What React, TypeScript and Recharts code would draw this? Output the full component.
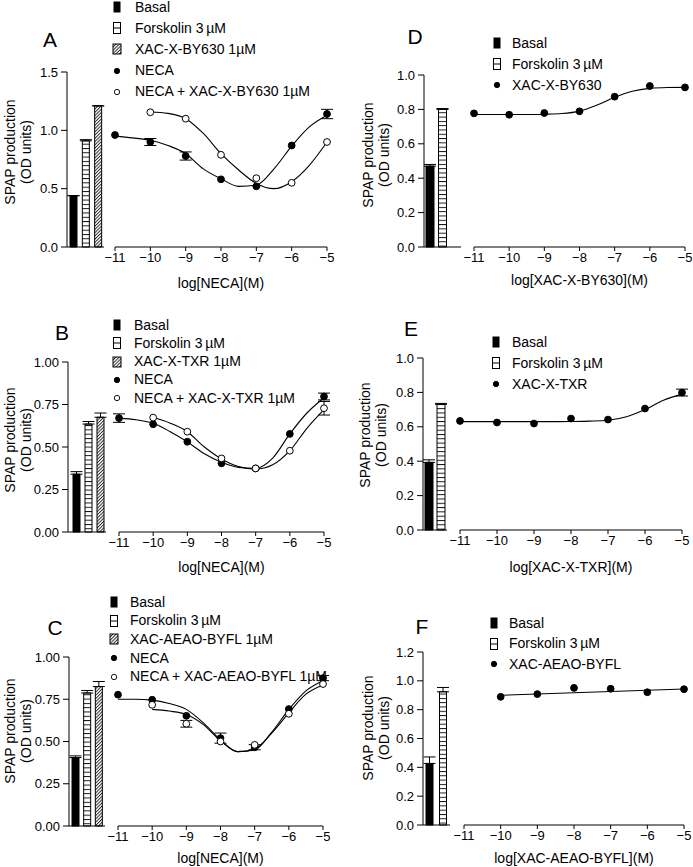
import { Bar, BarChart, Cell, ComposedChart, ErrorBar, Line, Scatter, XAxis, YAxis } from "recharts";

const FONT = "'Liberation Sans', Arial, Helvetica, sans-serif";

const doses = [-11, -10, -9, -8, -7, -6, -5];
const fitDoses = [-11, -10.5, -10, -9.5, -9, -8.5, -8, -7.5, -7, -6.5, -6, -5.5, -5];
const flatFitDoses = [-10, -5];
const xTicks = [-11, -10, -9, -8, -7, -6, -5];
const barNames = ["Basal", "Forskolin", "Antagonist"];

// panel A
const aBars = [0.44, 0.91, 1.21];
const aBarErr = [0, 0.01, 0];
const aNeca = [0.96, 0.9, 0.78, 0.58, 0.52, 0.87, 1.14];
const aNecaErr = [0, 0.03, 0.035, 0, 0, 0, 0.04];
const aNecaAnt = [null, 1.155, 1.1, 0.79, 0.59, 0.55, 0.9];
const aNecaFit = [0.95, 0.935, 0.915, 0.87, 0.8, 0.67, 0.585, 0.52, 0.53, 0.67, 0.865, 1.03, 1.13];
const aNecaAntFit = [null, null, 1.157, 1.145, 1.1, 0.973, 0.8, 0.66, 0.545, 0.5, 0.56, 0.7, 0.9];

// panel B
const bBars = [0.34, 0.635, 0.675];
const bBarErr = [0.015, 0.015, 0.025];
const bNeca = [0.67, 0.634, 0.531, 0.404, 0.374, 0.577, 0.797];
const bNecaErr = [0.025, 0, 0, 0, 0, 0, 0.02];
const bNecaAnt = [null, 0.673, 0.59, 0.433, 0.374, 0.478, 0.728];
const bNecaAntErr = [0, 0, 0, 0, 0, 0, 0.04];
const bNecaFit = [0.67, 0.66, 0.64, 0.59, 0.53, 0.46, 0.41, 0.38, 0.375, 0.435, 0.577, 0.7, 0.79];
const bNecaAntFit = [null, null, 0.673, 0.64, 0.59, 0.5, 0.43, 0.385, 0.37, 0.395, 0.478, 0.61, 0.72];

// panel C
const cBars = [0.405, 0.787, 0.825];
const cBarErr = [0.01, 0.015, 0.03];
const cNeca = [0.777, 0.747, 0.652, 0.52, 0.466, 0.692, 0.875];
const cNecaErr = [0, 0, 0, 0.03, 0.015, 0, 0.015];
const cNecaAnt = [null, 0.717, 0.605, 0.5, 0.48, 0.664, 0.84];
const cNecaAntErr = [0, 0, 0.02, 0, 0, 0, 0];
const cNecaFit = [0.75, 0.75, 0.745, 0.725, 0.69, 0.61, 0.51, 0.44, 0.45, 0.555, 0.69, 0.8, 0.86];
const cNecaAntFit = [null, null, 0.69, 0.68, 0.66, 0.6, 0.505, 0.44, 0.455, 0.55, 0.67, 0.78, 0.835];

// panel D
const dBars = [0.47, 0.8];
const dBarErr = [0.01, 0.005];
const dAnt = [0.777, 0.769, 0.779, 0.789, 0.874, 0.936, 0.928];
const dAntFit = [0.77, 0.77, 0.77, 0.77, 0.772, 0.776, 0.79, 0.825, 0.87, 0.905, 0.922, 0.927, 0.928];

// panel E
const eBars = [0.393, 0.731];
const eBarErr = [0.015, 0.005];
const eAnt = [0.634, 0.625, 0.619, 0.648, 0.642, 0.706, 0.799];
const eAntErr = [0, 0, 0, 0, 0, 0, 0.02];
const eAntFit = [0.63, 0.63, 0.63, 0.63, 0.63, 0.63, 0.631, 0.633, 0.638, 0.658, 0.7, 0.755, 0.79];

// panel F
const fBars = [0.427, 0.924];
const fBarErr = [0.045, 0.03];
const fAnt = [null, 0.889, 0.908, 0.951, 0.945, 0.921, 0.942];
const fAntFit = [0.9, 0.943];

const fmtMinus = (v: number) => String(v).replace("-", "\u2212");

function pts(xs: number[], ys: (number | null)[], errs?: number[]) {
  return xs
    .map((x, i) => ({ x, y: ys[i], err: errs ? errs[i] : 0 }))
    .filter((d) => d.y !== null);
}

function barRows(values: number[], errs: number[]) {
  return values.map((v, i) => ({ name: barNames[i], value: v, err: [0, errs[i]] }));
}

const fills = ["#000", "url(#stripes)", "url(#hatch)"];

function Icon({ kind }: { kind: string }) {
  if (kind === "basal")
    return (
      <svg width={12} height={14}>
        <rect x={2.5} y={1.5} width={7} height={11} fill="#000" />
      </svg>
    );
  if (kind === "forsk")
    return (
      <svg width={12} height={14}>
        <rect x={2.5} y={1.5} width={7} height={11} fill="#fff" stroke="#000" strokeWidth={1} />
        <line x1={2.5} x2={9.5} y1={7} y2={7} stroke="#000" strokeWidth={1} />
      </svg>
    );
  if (kind === "hatch")
    return (
      <svg width={12} height={14}>
        <rect x={2} y={2} width={8} height={10} fill="url(#hatch)" stroke="#000" strokeWidth={1} />
      </svg>
    );
  return (
    <svg width={12} height={14}>
      <circle cx={6} cy={7} r={2.7} fill={kind === "open" ? "#fff" : "#000"} stroke="#000" strokeWidth={0.9} />
    </svg>
  );
}

type Series = { points: { x: number; y: number | null; err: number }[]; fit: { x: number; y: number | null }[]; open: boolean };

type PanelCfg = {
  letter: string;
  letterX: number;
  letterY: number;
  yAxisX: number;
  yTop: number;
  yBottom: number;
  yMax: number;
  yTicks: number[];
  decimals: number;
  barEnd: number;
  barPadL: number;
  barPadR: number;
  barSize: number;
  bars: { name: string; value: number; err: number[] }[];
  curveStart: number;
  curveEnd: number;
  titleGap: number;
  xTitle: string;
  legendX: number;
  legendTextX: number;
  legendY: number;
  legendDy: number;
  legend: { kind: string; label: string }[];
  yLabelX: number;
  yLabelY: number;
  series: Series[];
};

const forskLabel = "Forskolin 3\u2009\u00b5M";

const panels: PanelCfg[] = [
  {
    letter: "A", letterX: 50, letterY: 40,
    yAxisX: 67, yTop: 72, yBottom: 247, yMax: 1.5, yTicks: [0, 0.5, 1, 1.5], decimals: 1,
    barEnd: 104, barPadL: 0, barPadR: 0, barSize: 7, bars: barRows(aBars, aBarErr),
    curveStart: 115, curveEnd: 327, titleGap: 41, xTitle: "log[NECA](M)",
    legendX: 117, legendTextX: 135, legendY: 7, legendDy: 21.2,
    legend: [
      { kind: "basal", label: "Basal" },
      { kind: "forsk", label: forskLabel },
      { kind: "hatch", label: "XAC-X-BY630 1\u00b5M" },
      { kind: "filled", label: "NECA" },
      { kind: "open", label: "NECA + XAC-X-BY630 1\u00b5M" },
    ],
    yLabelX: 19, yLabelY: 152,
    series: [
      { points: pts(doses, aNeca, aNecaErr), fit: pts(fitDoses, aNecaFit), open: false },
      { points: pts(doses, aNecaAnt), fit: pts(fitDoses, aNecaAntFit), open: true },
    ],
  },
  {
    letter: "B", letterX: 62, letterY: 333,
    yAxisX: 68, yTop: 362, yBottom: 532, yMax: 1, yTicks: [0, 0.25, 0.5, 0.75, 1], decimals: 2,
    barEnd: 106, barPadL: 2, barPadR: 0, barSize: 7, bars: barRows(bBars, bBarErr),
    curveStart: 119, curveEnd: 324, titleGap: 40, xTitle: "log[NECA](M)",
    legendX: 117, legendTextX: 134, legendY: 325, legendDy: 18.3,
    legend: [
      { kind: "basal", label: "Basal" },
      { kind: "forsk", label: forskLabel },
      { kind: "hatch", label: "XAC-X-TXR 1\u00b5M" },
      { kind: "filled", label: "NECA" },
      { kind: "open", label: "NECA + XAC-X-TXR 1\u00b5M" },
    ],
    yLabelX: 19, yLabelY: 440,
    series: [
      { points: pts(doses, bNeca, bNecaErr), fit: pts(fitDoses, bNecaFit), open: false },
      { points: pts(doses, bNecaAnt, bNecaAntErr), fit: pts(fitDoses, bNecaAntFit), open: true },
    ],
  },
  {
    letter: "C", letterX: 55, letterY: 628,
    yAxisX: 69, yTop: 657, yBottom: 826, yMax: 1, yTicks: [0, 0.25, 0.5, 0.75, 1], decimals: 2,
    barEnd: 105, barPadL: 1, barPadR: 0, barSize: 7, bars: barRows(cBars, cBarErr),
    curveStart: 118, curveEnd: 323, titleGap: 37, xTitle: "log[NECA](M)",
    legendX: 114, legendTextX: 130, legendY: 602, legendDy: 18.7,
    legend: [
      { kind: "basal", label: "Basal" },
      { kind: "forsk", label: forskLabel },
      { kind: "hatch", label: "XAC-AEAO-BYFL 1\u00b5M" },
      { kind: "filled", label: "NECA" },
      { kind: "open", label: "NECA + XAC-AEAO-BYFL 1\u00b5M" },
    ],
    yLabelX: 19, yLabelY: 731,
    series: [
      { points: pts(doses, cNeca, cNecaErr), fit: pts(fitDoses, cNecaFit), open: false },
      { points: pts(doses, cNecaAnt, cNecaAntErr), fit: pts(fitDoses, cNecaAntFit), open: true },
    ],
  },
  {
    letter: "D", letterX: 415, letterY: 37,
    yAxisX: 424, yTop: 75, yBottom: 247, yMax: 1, yTicks: [0, 0.2, 0.4, 0.6, 0.8, 1], decimals: 1,
    barEnd: 461, barPadL: 0, barPadR: 12, barSize: 8, bars: barRows(dBars, dBarErr),
    curveStart: 474, curveEnd: 685, titleGap: 38, xTitle: "log[XAC-X-BY630](M)",
    legendX: 497, legendTextX: 512, legendY: 43, legendDy: 21,
    legend: [
      { kind: "basal", label: "Basal" },
      { kind: "forsk", label: forskLabel },
      { kind: "filled", label: "XAC-X-BY630" },
    ],
    yLabelX: 377, yLabelY: 155,
    series: [{ points: pts(doses, dAnt), fit: pts(fitDoses, dAntFit), open: false }],
  },
  {
    letter: "E", letterX: 411, letterY: 329,
    yAxisX: 423, yTop: 358, yBottom: 530, yMax: 1, yTicks: [0, 0.2, 0.4, 0.6, 0.8, 1], decimals: 1,
    barEnd: 447, barPadL: 0, barPadR: 0, barSize: 8, bars: barRows(eBars, eBarErr),
    curveStart: 460, curveEnd: 682, titleGap: 42, xTitle: "log[XAC-X-TXR](M)",
    legendX: 496, legendTextX: 512, legendY: 342, legendDy: 21,
    legend: [
      { kind: "basal", label: "Basal" },
      { kind: "forsk", label: forskLabel },
      { kind: "filled", label: "XAC-X-TXR" },
    ],
    yLabelX: 374, yLabelY: 435,
    series: [{ points: pts(doses, eAnt, eAntErr), fit: pts(fitDoses, eAntFit), open: false }],
  },
  {
    letter: "F", letterX: 422, letterY: 627,
    yAxisX: 423, yTop: 652, yBottom: 825, yMax: 1.2, yTicks: [0, 0.2, 0.4, 0.6, 0.8, 1, 1.2], decimals: 1,
    barEnd: 450, barPadL: 0, barPadR: 0, barSize: 7, bars: barRows(fBars, fBarErr),
    curveStart: 464, curveEnd: 684, titleGap: 38, xTitle: "log[XAC-AEAO-BYFL](M)",
    legendX: 494, legendTextX: 509, legendY: 623, legendDy: 20.5,
    legend: [
      { kind: "basal", label: "Basal" },
      { kind: "forsk", label: forskLabel },
      { kind: "filled", label: "XAC-AEAO-BYFL" },
    ],
    yLabelX: 377, yLabelY: 728,
    series: [{ points: pts(doses, fAnt), fit: pts(flatFitDoses, fAntFit), open: false }],
  },
];

const TICK = 13;

function Panel({ p }: { p: PanelCfg }) {
  const padTop = 10;
  const padBottom = 10;
  const yW = 46;
  const plotH = p.yBottom - p.yTop;
  const padL = 10;
  const padR = 14;
  return (
    <>
      <div style={{ position: "absolute", left: p.letterX - 12, top: p.letterY - 13, width: 24, textAlign: "center", fontSize: 21, lineHeight: "26px" }}>
        {p.letter}
      </div>

      <div
        style={{
          position: "absolute",
          left: p.yLabelX - 75,
          top: p.yLabelY - 16,
          width: 150,
          height: 32,
          transform: "rotate(-90deg)",
          textAlign: "center",
          fontSize: 14,
          lineHeight: "15.5px",
        }}
      >
        SPAP production
        <br />
        (OD units)
      </div>

      <div style={{ position: "absolute", left: p.yAxisX - yW, top: p.yTop - padTop }}>
        <BarChart
          width={yW + (p.barEnd - p.yAxisX) + 4}
          height={padTop + plotH + 4 + padBottom}
          data={p.bars}
          margin={{ top: padTop, right: 4, bottom: padBottom, left: 0 }}
          barSize={p.barSize}
        >
          <XAxis dataKey="name" tick={false} tickLine={false} height={4} axisLine={{ stroke: "#000" }} padding={{ left: p.barPadL, right: p.barPadR }} />
          <YAxis
            width={yW}
            domain={[0, p.yMax]}
            ticks={p.yTicks}
            interval={0}
            tickFormatter={(v: number) => v.toFixed(p.decimals)}
            tick={{ fill: "#000", fontSize: TICK, fontFamily: FONT }}
            tickSize={6}
            tickMargin={3}
            axisLine={{ stroke: "#000" }}
            tickLine={{ stroke: "#000" }}
          />
          <Bar dataKey="value" isAnimationActive={false} stroke="#000" strokeWidth={1}>
            {p.bars.map((b, i) => (
              <Cell key={b.name} fill={fills[i]} />
            ))}
            <ErrorBar dataKey="err" width={6} stroke="#000" strokeWidth={1} direction="y" />
          </Bar>
        </BarChart>
      </div>

      <div style={{ position: "absolute", left: p.curveStart - padL, top: p.yTop - padTop }}>
        <ComposedChart
          width={p.curveEnd - p.curveStart + padL + padR}
          height={padTop + plotH + p.titleGap + 8}
          margin={{ top: padTop, right: padR, bottom: 0, left: padL }}
        >
          <XAxis
            type="number"
            dataKey="x"
            domain={[-11, -5]}
            ticks={xTicks}
            interval={0}
            tickFormatter={fmtMinus}
            height={p.titleGap + 8}
            tickSize={4}
            tickMargin={2}
            axisLine={{ stroke: "#000" }}
            tickLine={{ stroke: "#000" }}
            tick={{ fill: "#000", fontSize: TICK, fontFamily: FONT }}
            label={{ value: p.xTitle, position: "insideBottom", offset: 8, fill: "#000", fontSize: 14, fontFamily: FONT }}
          />
          <YAxis type="number" dataKey="y" domain={[0, p.yMax]} hide />
          {p.series.map((s, i) => (
            <Line
              key={`fit-${i}`}
              data={s.fit}
              dataKey="y"
              type="monotone"
              dot={false}
              activeDot={false}
              stroke="#000"
              strokeWidth={1.1}
              isAnimationActive={false}
            />
          ))}
          {p.series.map((s, i) => (
            <Scatter
              key={`pts-${i}`}
              data={s.points}
              dataKey="y"
              isAnimationActive={false}
              shape={(props: any) => (
                <circle cx={props.cx} cy={props.cy} r={3.4} fill={s.open ? "#fff" : "#000"} stroke="#000" strokeWidth={1} />
              )}
            >
              <ErrorBar dataKey="err" direction="y" width={6} stroke="#000" strokeWidth={1} />
            </Scatter>
          ))}
        </ComposedChart>
      </div>

      {p.legend.map((item, i) => {
        const cy = p.legendY + i * p.legendDy;
        return (
          <div key={item.label}>
            <div style={{ position: "absolute", left: p.legendX - 6, top: cy - 7, width: 12, height: 14 }}>
              <Icon kind={item.kind} />
            </div>
            <div style={{ position: "absolute", left: p.legendTextX, top: cy - 8.5, fontSize: 14, lineHeight: "17px", whiteSpace: "nowrap" }}>
              {item.label}
            </div>
          </div>
        );
      })}
    </>
  );
}

export default function App() {
  return (
    <div style={{ position: "absolute", left: 0, top: 0, width: 693, height: 867, background: "#fff", fontFamily: FONT, color: "#000", overflow: "hidden" }}>
      <svg width={0} height={0} style={{ position: "absolute" }}>
        <defs>
          <pattern id="stripes" patternUnits="userSpaceOnUse" width={8} height={4.3}>
            <rect width={8} height={4.3} fill="#fff" />
            <line x1={0} x2={8} y1={0.5} y2={0.5} stroke="#000" strokeWidth={0.9} />
          </pattern>
          <pattern id="hatch" patternUnits="userSpaceOnUse" width={2.3} height={6} patternTransform="rotate(45)">
            <rect width={2.3} height={6} fill="#fff" />
            <line x1={0.5} x2={0.5} y1={0} y2={6} stroke="#000" strokeWidth={0.8} />
          </pattern>
        </defs>
      </svg>
      {panels.map((p) => (
        <Panel key={p.letter} p={p} />
      ))}
    </div>
  );
}
